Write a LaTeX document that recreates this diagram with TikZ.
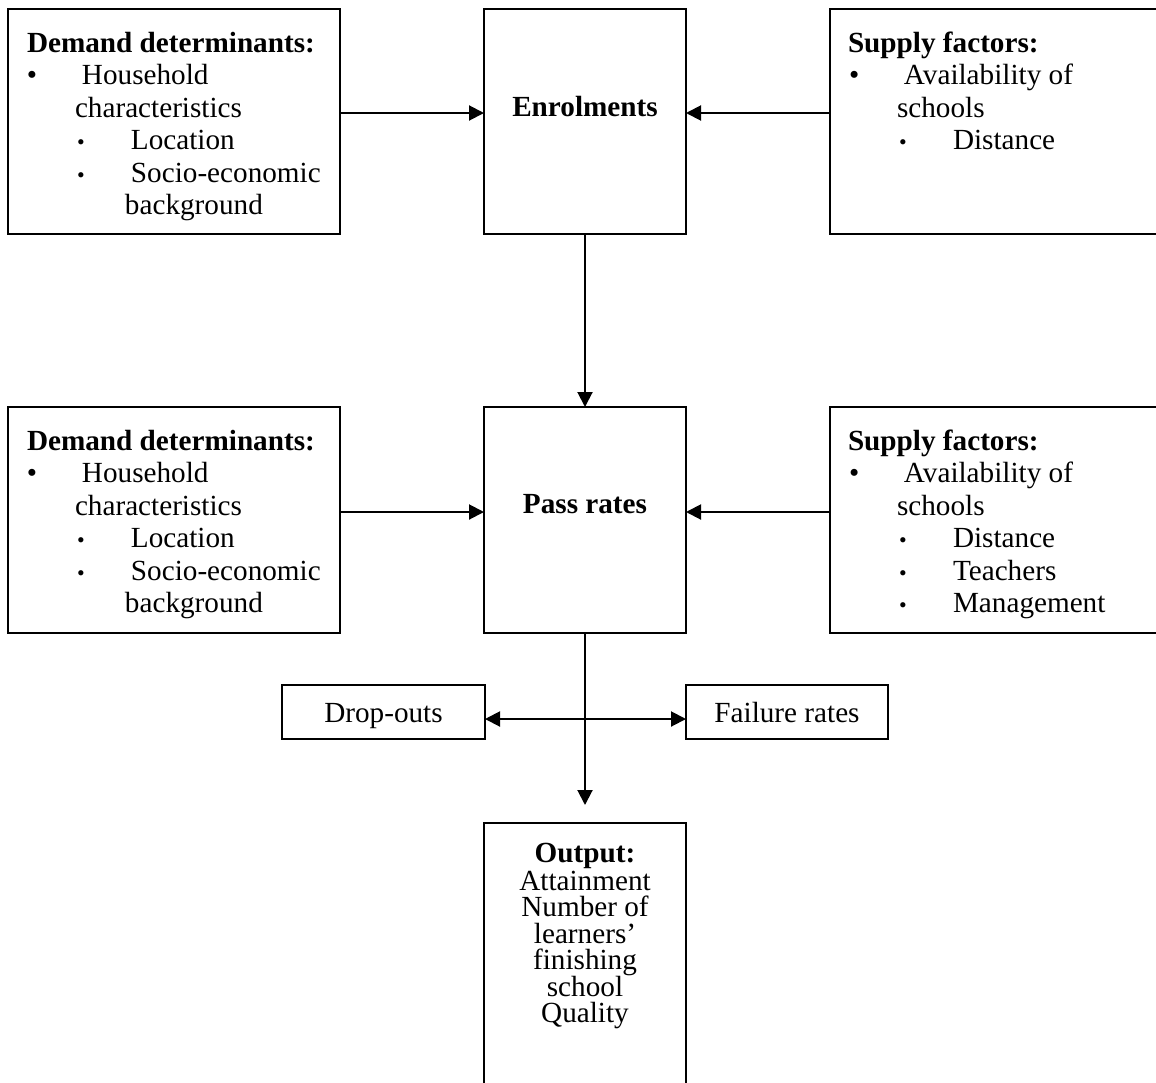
\documentclass[tikz,border=0pt]{standalone}
\usepackage{graphicx}
\usepackage{fontspec}
\setmainfont{Liberation Serif}
\usetikzlibrary{arrows.meta}

\newcommand{\bulA}{\hspace*{9.5pt}\makebox[27.5pt][l]{\textbullet}}
\newcommand{\bulB}{\hspace*{34.5pt}\makebox[27pt][l]{\scalebox{0.75}{\textbullet}}}
\newcommand{\wrapA}{\hspace*{33.5pt}}
\newcommand{\wrapB}{\hspace*{58.5pt}}
\newcommand{\boxtext}[3]{\begin{minipage}[c][#2][t]{#1}#3\end{minipage}}

\begin{document}
\begin{tikzpicture}[>={Triangle[length=7.5pt,width=7.5pt]},line width=1pt,x=0.5pt,y=-0.5pt,
  font=\fontsize{14.6}{16.25}\selectfont,
  factor/.style={draw,inner sep=0pt,outer sep=0pt},
  effect/.style={factor,minimum height=27pt,text height=10pt,text depth=0pt}]
\path[use as bounding box,clip] (0,0) rectangle (1156,1082);
\node[factor] (dem1) at (174,121.5) {\boxtext{166pt}{112.5pt}{\rule{0pt}{21.5pt}\hspace*{9.5pt}\textbf{Demand determinants:}\\
\bulA Household\\
\wrapA characteristics\\
\bulB Location\\
\bulB Socio-economic\\
\wrapB background}};
\node[factor] (enrol) at (585,121.5) {\boxtext{101pt}{112.5pt}{\centering\rule{0pt}{53.5pt}\textbf{Enrolments}}};
\node[factor] (sup1) at (998,121.5) {\boxtext{168pt}{112.5pt}{\rule{0pt}{21.5pt}\hspace*{9pt}\textbf{Supply factors:}\\
\bulA Availability of\\
\wrapA schools\\
\bulB Distance}};
\node[factor] (dem2) at (174,520) {\boxtext{166pt}{113pt}{\rule{0pt}{21.5pt}\hspace*{9.5pt}\textbf{Demand determinants:}\\
\bulA Household\\
\wrapA characteristics\\
\bulB Location\\
\bulB Socio-economic\\
\wrapB background}};
\node[factor] (pass) at (585,520) {\boxtext{101pt}{113pt}{\centering\rule{0pt}{53pt}\textbf{Pass rates}}};
\node[factor] (sup2) at (998,520) {\boxtext{168pt}{113pt}{\rule{0pt}{21.5pt}\hspace*{9pt}\textbf{Supply factors:}\\
\bulA Availability of\\
\wrapA schools\\
\bulB Distance\\
\bulB Teachers\\
\bulB Management}};
\node[effect,minimum width=101.5pt] (drop) at (383.5,712) {Drop-outs};
\node[effect,minimum width=101pt] (fail) at (787,712) {Failure rates};
\node[factor] (out) at (585,966.5) {\boxtext{101pt}{143.5pt}{\centering\fontsize{14.6}{13.2}\selectfont\lineskiplimit=-10pt
\rule{0pt}{19.5pt}\textbf{Output:}\\[1pt]
Attainment\\
Number of\\
learners’\\
finishing\\
school\\
Quality}};
\path[->] ([yshift=4.25pt]dem1.east) edge ([yshift=4.25pt]enrol.west);
\path[->] ([yshift=4.25pt]sup1.west) edge ([yshift=4.25pt]enrol.east);
\path[->] (enrol) edge (pass);
\path[->] ([yshift=4pt]dem2.east) edge ([yshift=4pt]pass.west);
\path[->] ([yshift=4pt]sup2.west) edge ([yshift=4pt]pass.east);
\path[->] (pass) edge [shorten >=9pt] (out);
\path[<->] ([yshift=-3.5pt]drop.east) edge ([yshift=-3.5pt]fail.west);
\end{tikzpicture}
\end{document}
